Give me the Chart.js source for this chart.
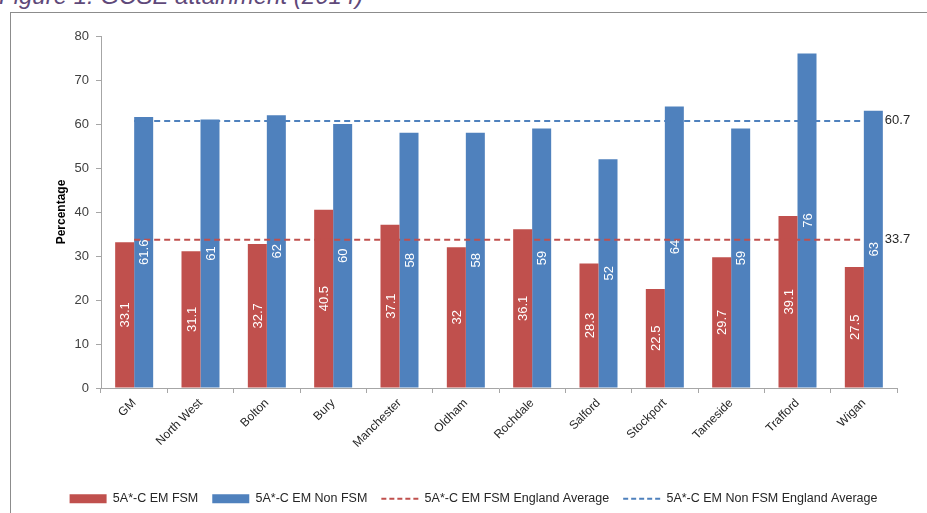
<!DOCTYPE html>
<html>
<head>
<meta charset="utf-8">
<title>GCSE attainment (2014)</title>
<script src="https://cdn.jsdelivr.net/npm/chart.js@4.4.1/dist/chart.umd.min.js"></script>
<style>
  html, body { margin: 0; padding: 0; background: #fff; }
  body { width: 927px; height: 513px; position: relative; overflow: hidden; font-family: "Liberation Sans", Arial, sans-serif; }
  #caption { position: absolute; left: -1px; top: -16px; font-size: 24px; line-height: 24px; font-style: italic; color: #5f497a; white-space: nowrap; }
  #frame { position: absolute; left: 10px; top: 12px; right: -2px; bottom: -2px; border-top: 1px solid #8c8c8c; border-left: 1px solid #8c8c8c; }
  #wrap { position: absolute; left: 0; top: 2px; width: 927px; height: 513px; }
</style>
</head>
<body>
<div id="caption">Figure 1: GCSE attainment (2014)</div>
<div id="frame"></div>
<div id="wrap"><canvas id="gcseChart"></canvas></div>

<script>
// --- data ---
const areas = ['GM', 'North West', 'Bolton', 'Bury', 'Manchester', 'Oldham', 'Rochdale', 'Salford', 'Stockport', 'Tameside', 'Trafford', 'Wigan'];
const fsmValues = [33.1, 31.1, 32.7, 40.5, 37.1, 32, 36.1, 28.3, 22.5, 29.7, 39.1, 27.5];
const nonFsmValues = [61.6, 61, 62, 60, 58, 58, 59, 52, 64, 59, 76, 63];
const fsmEnglandAvg = 33.7;
const nonFsmEnglandAvg = 60.7;
const yMin = 0, yMax = 80, yStep = 10;

const RED = '#c0504d';
const BLUE = '#4f81bd';
const AXIS_GREY = '#a6a6a6';
const FONT = '"Liberation Sans", Arial, sans-serif';

// white rotated values inside the bars, averages written past the end of the dashed lines
const valueLabels = {
    id: 'valueLabels',
    afterDatasetsDraw(chart) {
        const ctx = chart.ctx;
        chart.data.datasets.forEach((ds, i) => {
            const meta = chart.getDatasetMeta(i);
            if (meta.hidden) return;
            ctx.save();
            ctx.font = '13px ' + FONT;
            if (ds.type === 'line') {
                const last = meta.data[meta.data.length - 1];
                ctx.fillStyle = '#262626';
                ctx.textAlign = 'left';
                ctx.textBaseline = 'middle';
                ctx.fillText(String(ds.data[ds.data.length - 1]), last.x + 21, last.y);
            } else {
                ctx.fillStyle = '#ffffff';
                ctx.textAlign = 'center';
                ctx.textBaseline = 'middle';
                meta.data.forEach((bar, j) => {
                    ctx.save();
                    ctx.translate(bar.x, (bar.y + bar.base) / 2);
                    ctx.rotate(-Math.PI / 2);
                    ctx.fillText(String(ds.data[j]), 0, 1);
                    ctx.restore();
                });
            }
            ctx.restore();
        });
    }
};

const chart = new Chart(document.getElementById('gcseChart'), {
    type: 'bar',
    data: {
        labels: areas,
        datasets: [
            { label: '5A*-C EM FSM', data: fsmValues, backgroundColor: RED, order: 2,
              categoryPercentage: 0.573, barPercentage: 1 },
            { label: '5A*-C EM Non FSM', data: nonFsmValues, backgroundColor: BLUE, order: 2,
              categoryPercentage: 0.573, barPercentage: 1 },
            { type: 'line', label: '5A*-C EM FSM England Average', data: areas.map(() => fsmEnglandAvg),
              borderColor: RED, backgroundColor: RED, borderWidth: 2, borderDash: [6, 4], pointRadius: 0, order: 1 },
            { type: 'line', label: '5A*-C EM Non FSM England Average', data: areas.map(() => nonFsmEnglandAvg),
              borderColor: BLUE, backgroundColor: BLUE, borderWidth: 2, borderDash: [6, 4], pointRadius: 0, order: 1 }
        ]
    },
    options: {
        responsive: true,
        maintainAspectRatio: false,
        animation: false,
        layout: { padding: { left: 50, right: 30, top: 34, bottom: 0 } },
        scales: {
            x: {
                offset: true,
                grid: { offset: true, drawOnChartArea: false, color: AXIS_GREY, tickLength: 5 },
                border: { color: AXIS_GREY },
                ticks: { color: '#262626', font: { family: FONT, size: 12 }, minRotation: 45, maxRotation: 45, padding: 3 },
                afterFit(scale) { scale.height = 90.5; }
            },
            y: {
                min: yMin, max: yMax,
                grid: { drawOnChartArea: false, color: AXIS_GREY, tickLength: 5 },
                border: { color: AXIS_GREY },
                ticks: { stepSize: yStep, color: '#404040', font: { family: FONT, size: 13 }, padding: 7 },
                title: { display: true, text: 'Percentage', color: '#000', font: { family: FONT, size: 12, weight: 'bold' } },
                afterFit(scale) { scale.width = 51; }
            }
        },
        plugins: {
            tooltip: { enabled: false },
            legend: {
                position: 'bottom',
                labels: {
                    color: '#262626',
                    font: { family: FONT, size: 12.5 },
                    usePointStyle: true,
                    pointStyleWidth: 37,
                    boxHeight: 9,
                    padding: 14,
                    sort: (a, b) => a.datasetIndex - b.datasetIndex,
                    generateLabels(c) {
                        const items = Chart.defaults.plugins.legend.labels.generateLabels(c);
                        items.forEach(item => {
                            const ds = c.data.datasets[item.datasetIndex];
                            if (ds.type === 'line') {
                                item.pointStyle = 'line';
                                item.lineWidth = 2;
                                item.lineDash = [5, 3];
                                item.strokeStyle = ds.borderColor;
                            } else {
                                item.pointStyle = 'rect';
                                item.lineWidth = 0;
                                item.fillStyle = ds.backgroundColor;
                                item.strokeStyle = ds.backgroundColor;
                            }
                        });
                        return items;
                    }
                }
            }
        }
    },
    plugins: [valueLabels]
});
</script>
</body>
</html>
